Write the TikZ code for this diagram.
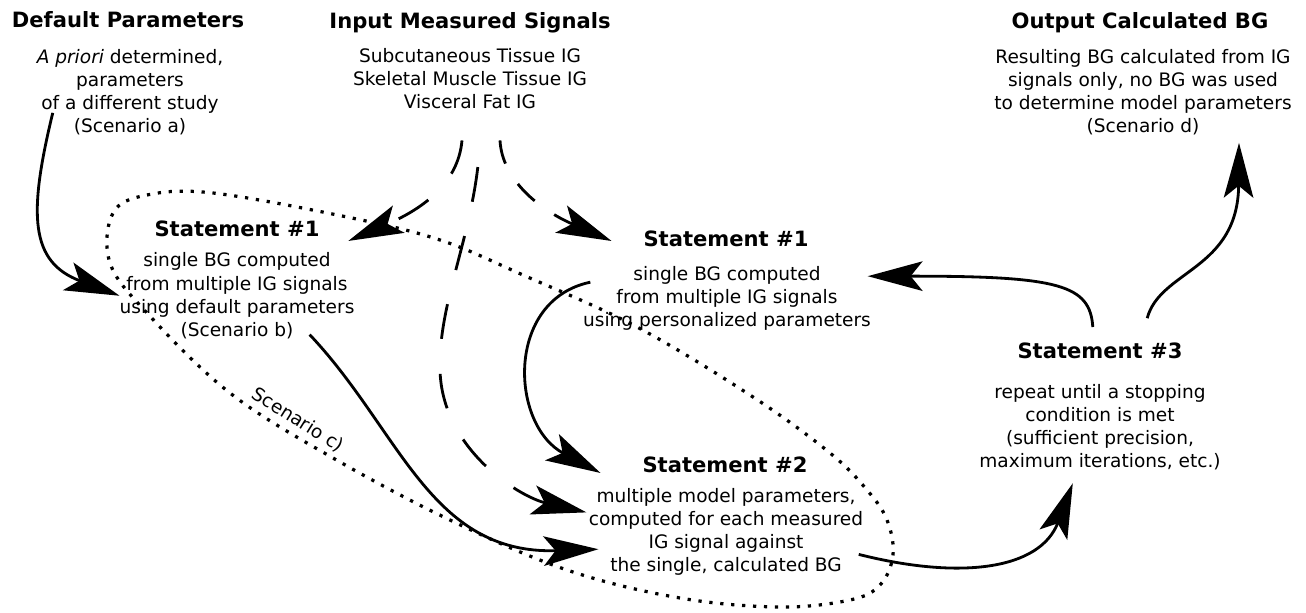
\documentclass[tikz,border=0pt]{standalone}
\usepackage{fontspec}
\setmainfont{DejaVu Sans}
\usetikzlibrary{arrows.meta}

\begin{document}
\begin{tikzpicture}

\tikzset{head/.style = {font=\fontsize{15pt}{18pt}\selectfont\bfseries, inner sep=0pt, outer sep=0pt}}
\tikzset{txt/.style = {font=\fontsize{13.2pt}{16.4pt}\selectfont, align=center, inner sep=0pt, outer sep=0pt}}
\tikzset{edge/.style = {-{Stealth[length=39pt,width=21pt,inset=8.5pt]}, line width=2pt}}
\tikzset{dashededge/.style = {edge, dash pattern=on 25pt off 25pt}}
\tikzset{dotline/.style = {line width=2.3pt, dash pattern=on 2.3pt off 5.5pt}}

\useasboundingbox (0,0) rectangle (32.65,15.3);

% headers
\node[head] (dpT) at (3.2,14.8) {Default Parameters};
\node[head] (imT) at (11.75,14.74) {Input Measured Signals};
\node[head] (ocT) at (28.5,14.74) {Output Calculated BG};

% texts under the headers
\node[txt] (dp) at (3.25,13.0) {\textit{A priori} determined,\\ parameters\\ of a different study\\ (Scenario a)};
\node[txt] (im) at (11.75,13.325) {Subcutaneous Tissue IG\\ Skeletal Muscle Tissue IG\\ Visceral Fat IG};
\node[txt] (oc) at (28.575,13.0) {Resulting BG calculated from IG\\ signals only, no BG was used\\ to determine model parameters\\ (Scenario d)};

% statements
\node[head] (s1aT) at (5.925,9.575) {Statement \#1};
\node[txt] (s1a) at (5.925,7.906) {single BG computed\\ from multiple IG signals\\ using default parameters\\ (Scenario b)};
\node[head] (s1bT) at (18.15,9.325) {Statement \#1};
\node[txt] (s1b) at (18.175,7.845) {single BG computed\\ from multiple IG signals\\ using personalized parameters};
\node[head] (s2T) at (18.125,3.675) {Statement \#2};
\node[txt] (s2) at (18.15,2.0) {multiple model parameters,\\ computed for each measured\\ IG signal against\\ the single, calculated BG};
\node[head] (s3T) at (27.5,6.525) {Statement \#3};
\node[txt] (s3) at (27.5,4.63) {repeat until a stopping\\ condition is met\\ (sufficient precision,\\ maximum iterations, etc.)};

% scenario c
\draw[dotline] plot[smooth cycle, tension=0.6] coordinates {(2.825,9.975) (3.675,10.425) (5.325,10.475) (8.675,9.875) (11.0,9.3) (13.075,8.425) (15.925,7.125) (18.825,5.375) (20.75,3.975) (21.675,3.05) (22.175,2.3) (22.325,1.425) (22.0,0.675) (21.25,0.3) (19.5,0.125) (17.0,0.35) (14.175,1.05) (11.25,2.3) (8.325,3.85) (5.75,5.475) (3.675,7.475) (2.75,8.725)};
\node[txt, rotate=-32] (sc) at (7.45,4.8) {Scenario c)};

%edges
\draw[edge] ([shift={(0.4,0.55)}]dp.south west) .. controls (0.7,9.925) and (0.75,8.75) .. (s1a.west);
\draw[dashededge] ([shift={(-0.2,-0.78)}]im.south) .. controls (11.45,10.675) and (10.5,10.05) .. ([shift={(0.72,-0.1)}]s1aT.south east);
\draw[dashededge, dash pattern=on 17pt off 17pt] ([shift={(0.75,-0.78)}]im.south) .. controls (12.55,10.8) and (13.5,10.05) .. ([shift={(-0.8,-0.05)}]s1bT.west);
\draw[dashededge, dash phase=31pt] ([shift={(0.25,-0.78)}]im.south) .. controls (11.9,9.55) and (10.95,7.8) .. (11.0,6.05) .. controls (11.05,4.05) and (13.0,2.875) .. ([shift={(-0.06,0.49)}]s2.west);
\draw[edge] ([shift={(-1.12,0.1)}]s1a.south east) .. controls (10.0,4.55) and (10.75,1.425) .. ([shift={(0.24,-0.43)}]s2.west);
\draw[edge] ([shift={(0.18,0.4)}]s1b.west) .. controls (12.625,7.8) and (12.75,4.675) .. ([shift={(-1.05,-0.2)}]s2T.west);
\draw[edge] ([shift={(-0.11,-0.56)}]s2.east) .. controls (24.0,0.8) and (26.0,1.05) .. ([shift={(-0.68,-0.34)}]s3.south);
\draw[edge] ([shift={(-0.18,0.4)}]s3T.north) .. controls (27.25,8.175) and (26.5,8.4) .. ([shift={(-0.08,0.55)}]s1b.east);
\draw[edge] ([shift={(1.18,0.62)}]s3T.north) .. controls (29.0,8.55) and (30.95,8.55) .. ([shift={(2.4,-0.2)}]oc.south);

\end{tikzpicture}
\end{document}
